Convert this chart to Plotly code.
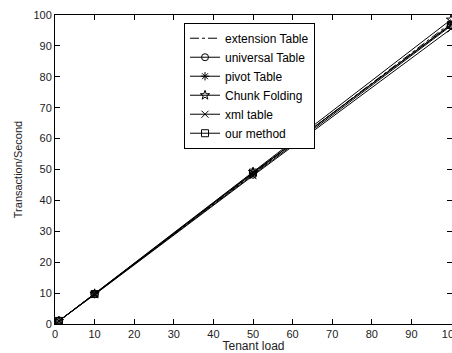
import plotly.graph_objects as go

tenant_load = [1, 10, 50, 100]
extension_table = [1.0, 9.7, 48.6, 97.5]
universal_table = [1.0, 9.6, 48.3, 96.5]
pivot_table = [1.0, 9.8, 48.8, 97.0]
chunk_folding = [1.0, 9.8, 49.2, 98.5]
xml_table = [1.0, 9.5, 48.0, 95.5]
our_method = [1.0, 9.7, 49.0, 96.8]

x_ticks = list(range(0, 101, 10))
y_ticks = list(range(0, 101, 10))

series = [
    ("extension Table", extension_table, "dashdot", None),
    ("universal Table", universal_table, "solid", "circle-open"),
    ("pivot Table", pivot_table, "solid", "asterisk-open"),
    ("Chunk Folding", chunk_folding, "solid", "star-open"),
    ("xml table", xml_table, "solid", "x-thin-open"),
    ("our method", our_method, "solid", "square-open"),
]

fig = go.Figure()
for name, vals, dash, sym in series:
    fig.add_trace(go.Scatter(
        x=tenant_load, y=vals, name=name,
        mode="lines" if sym is None else "lines+markers",
        line=dict(color="black", width=1, dash=dash),
        marker=dict(symbol=sym or "circle", size=7, color="black",
                    line=dict(color="black", width=1)),
    ))

# invisible helper trace for right-side ticks
fig.add_trace(go.Scatter(x=[0], y=[0], yaxis="y2", mode="markers",
                         marker=dict(opacity=0), showlegend=False,
                         hoverinfo="skip"))

font = "Liberation Sans, Arial, sans-serif"
fig.update_layout(
    width=452, height=353,
    margin=dict(l=55, r=0, t=15, b=29),
    paper_bgcolor="white", plot_bgcolor="white",
    font=dict(family=font, size=11, color="#222"),
    showlegend=True,
    legend=dict(x=0.325, y=0.975, xanchor="left", yanchor="top",
                bgcolor="white", bordercolor="black", borderwidth=1,
                font=dict(size=12, color="black")),
    xaxis=dict(range=[0, 100.25], tickvals=x_ticks, ticks="inside", ticklen=5,
               tickcolor="black", showline=True, linecolor="black",
               linewidth=1, mirror="ticks", showgrid=False, zeroline=False,
               ticklabeloverflow="allow", automargin=False,
               title=dict(text="Tenant load", standoff=4,
                          font=dict(size=12, color="#222"))),
    yaxis=dict(range=[0, 100], tickvals=y_ticks, ticks="inside", ticklen=5,
               tickcolor="black", showline=True, linecolor="black",
               linewidth=1, mirror=False, showgrid=False, zeroline=False,
               automargin=False,
               title=dict(text="Transaction/Second", standoff=8,
                          font=dict(size=11, color="#222"))),
    yaxis2=dict(range=[0, 100], tickvals=y_ticks, ticks="inside", ticklen=5,
                tickcolor="black", overlaying="y", side="right",
                showline=False, showticklabels=False, showgrid=False,
                zeroline=False, automargin=False),
)

fig.write_html("out.html")
